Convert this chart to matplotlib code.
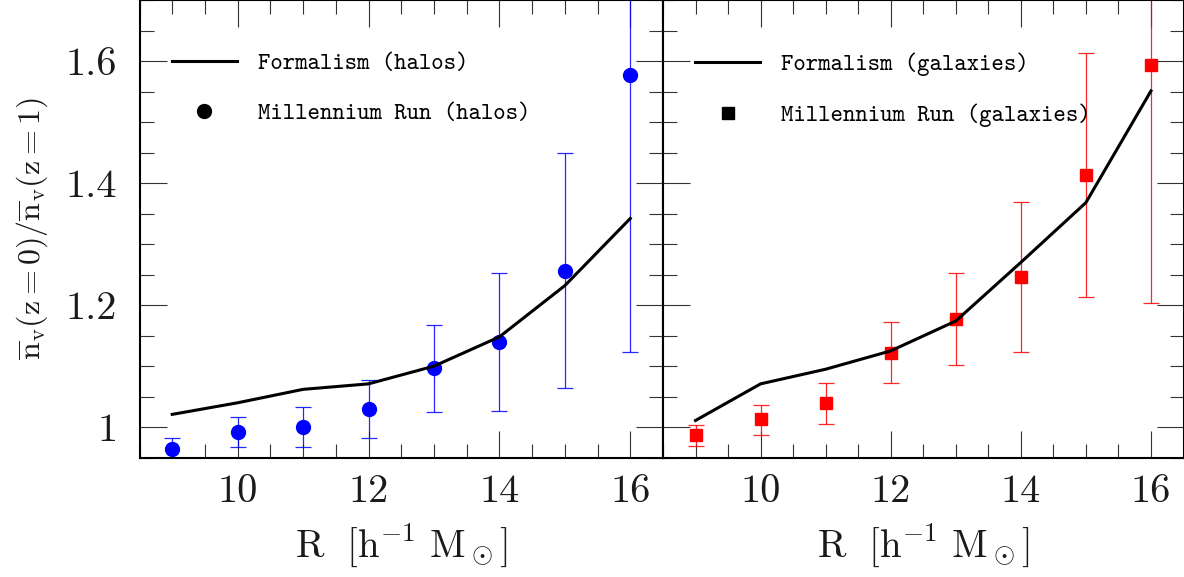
import numpy as np
import matplotlib
matplotlib.use('Agg')
import matplotlib.pyplot as plt
from matplotlib.ticker import MultipleLocator, FixedLocator, FixedFormatter

plt.rcParams['mathtext.fontset'] = 'cm'
plt.rcParams['font.family'] = 'cmr10'
plt.rcParams['axes.formatter.use_mathtext'] = True

# data
radius = [9, 10, 11, 12, 13, 14, 15, 16]

halo_model = [1.021, 1.040, 1.062, 1.071, 1.100, 1.148, 1.232, 1.342]
halo_mr = [0.965, 0.992, 1.000, 1.030, 1.097, 1.140, 1.256, 1.577]
halo_lo = [0.94, 0.967, 0.967, 0.982, 1.025, 1.027, 1.064, 1.124]
halo_hi = [0.983, 1.016, 1.033, 1.078, 1.168, 1.253, 1.449, 1.76]

gal_model = [1.011, 1.071, 1.095, 1.125, 1.174, 1.270, 1.368, 1.551]
gal_mr = [0.987, 1.013, 1.040, 1.121, 1.177, 1.246, 1.413, 1.593]
gal_lo = [0.969, 0.987, 1.006, 1.072, 1.102, 1.124, 1.213, 1.204]
gal_hi = [1.004, 1.037, 1.073, 1.173, 1.253, 1.369, 1.613, 1.78]

x_ticks = [10, 12, 14, 16]
x_ticklabels = ['10', '12', '14', '16']
y_ticks = [1.0, 1.2, 1.4, 1.6]
y_ticklabels = ['1', '1.2', '1.4', '1.6']

W, H = 1184, 577
fig = plt.figure(figsize=(W/100, H/100), dpi=100)
ax_l = fig.add_axes([139.5/W, (H-457.7)/H, 523.5/W, 457.7/H])
ax_r = fig.add_axes([663/W, (H-457.7)/H, 520.5/W, 457.7/H])

panels = [
    (ax_l, halo_model, halo_mr, halo_lo, halo_hi, 'blue', 'o', 10,
     'Formalism (halos)', 'Millennium Run (halos)'),
    (ax_r, gal_model, gal_mr, gal_lo, gal_hi, 'red', 's', 8,
     'Formalism (galaxies)', 'Millennium Run (galaxies)'),
]

for ax, model, mr, lo, hi, col, mk, ms, lab_line, lab_pts in panels:
    mr_a = np.array(mr)
    yerr = [mr_a - np.array(lo), np.array(hi) - mr_a]
    ax.errorbar(radius, mr, yerr=yerr, fmt='none', ecolor=col, elinewidth=0.9,
                capsize=5.5, capthick=0.9, alpha=0.85, zorder=2)
    ax.plot(radius, mr, linestyle='none', marker=mk, ms=ms, color=col, zorder=3)
    ax.plot(radius, model, color='black', lw=2.2, zorder=4)

    # legend proxies
    h1, = ax.plot([], [], color='black', lw=2.2)
    h2, = ax.plot([], [], linestyle='none', marker=mk, ms=ms, color='black')
    ax.legend([h1, h2], [lab_line, lab_pts], loc='upper left',
              bbox_to_anchor=(0.062, 0.885), borderpad=0, borderaxespad=0,
              frameon=False, handlelength=2.75, handletextpad=0.9,
              labelspacing=1.15, prop={'family': 'cmtt10', 'size': 17})

    ax.set_xlim(8.5, 16.5)
    ax.set_ylim(0.95, 1.7)
    ax.xaxis.set_major_locator(FixedLocator(x_ticks))
    ax.xaxis.set_major_formatter(FixedFormatter(x_ticklabels))
    ax.xaxis.set_minor_locator(MultipleLocator(0.5))
    ax.yaxis.set_major_locator(FixedLocator(y_ticks))
    ax.yaxis.set_major_formatter(FixedFormatter(y_ticklabels))
    ax.yaxis.set_minor_locator(MultipleLocator(0.05))
    ax.tick_params(which='both', direction='in', top=True, right=True,
                   color='#333333', width=0.8, labelsize=29, labelcolor='#1a1a1a')
    ax.tick_params(which='major', length=19.5)
    ax.tick_params(which='minor', length=10)
    ax.tick_params(axis='x', pad=12)
    ax.tick_params(axis='y', pad=16)
    for sp in ax.spines.values():
        sp.set_linewidth(1.5)
    ax.set_xlabel(r'$\mathrm{R\ \ [h^{-1}\ M_\odot]}$', fontsize=28,
                  labelpad=8, color='#1a1a1a')

ax_r.tick_params(axis='y', labelleft=False)
ax_l.set_ylabel(r'$\overline{\mathrm{n}}_\mathrm{v}(\mathrm{z=0})/'
                r'\overline{\mathrm{n}}_\mathrm{v}(\mathrm{z=1})$',
                fontsize=23, color='#1a1a1a')
ax_l.yaxis.set_label_coords(-0.171, 0.5)

fig.savefig('out.png', dpi=100)
